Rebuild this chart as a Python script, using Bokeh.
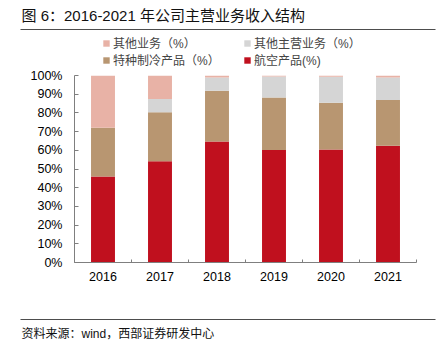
from bokeh.plotting import figure
from bokeh.layouts import column
from bokeh.models import (ColumnDataSource, Legend, LegendItem, Label, BoxAnnotation,
                          FixedTicker, Range1d)
from bokeh.embed import file_html
from bokeh.resources import INLINE

years = ["2016", "2017", "2018", "2019", "2020", "2021"]
aviation = [46.0, 54.2, 64.7, 60.2, 60.4, 62.5]
refrigeration = [26.1, 26.1, 27.1, 28.1, 25.0, 24.4]
other_main = [0.0, 7.1, 7.1, 11.2, 13.9, 12.0]
other_business = [27.9, 12.6, 1.1, 0.5, 0.7, 1.1]
y_ticks = [0, 10, 20, 30, 40, 50, 60, 70, 80, 90, 100]

names = ["航空产品(%)", "特种制冷产品（%）", "其他主营业务（%）", "其他业务（%）"]
colors = ["#C0101E", "#B89671", "#D5D5D5", "#E8B2A6"]
title_text = "图 6：2016-2021 年公司主营业务收入结构"
source_text = "资料来源：wind，西部证券研发中心"

CJK = "'Liberation Sans', 'Noto Sans CJK SC'"
W = 448
HEAD_H, FOOT_H = 68, 30
MAIN_H = 348 - HEAD_H - FOOT_H

xs = list(range(len(years)))
src = ColumnDataSource(dict(x=xs, a=aviation, r=refrigeration, m=other_main, o=other_business))
stack = ["a", "r", "m", "o"]


def blank(h):
    f = figure(width=W, height=h, output_backend="svg", toolbar_location=None,
               x_range=Range1d(0, W), y_range=Range1d(h, 0),
               x_axis_type=None, y_axis_type=None, frame_align=False,
               min_border=0, min_border_left=0, min_border_right=0,
               min_border_top=0, min_border_bottom=0)
    f.outline_line_color = None
    f.grid.visible = False
    return f


# header: title, rule, legend
head = blank(HEAD_H)
head.add_layout(Label(x=21, y=15, text=title_text, text_baseline="middle",
                      text_font=CJK, text_font_size="15px", text_color="#111111"))
head.add_layout(BoxAnnotation(left=20, right=435, top=28.5, bottom=29.5,
                              fill_color="#4d4d4d", fill_alpha=1, line_color=None))
proxies = head.vbar_stack(stack, x="x", width=0.42, source=src,
                          color=colors, line_color=None, visible=False)

items = [LegendItem(label=names[3], renderers=[proxies[3]]),
         LegendItem(label=names[2], renderers=[proxies[2]]),
         LegendItem(label=names[1], renderers=[proxies[1]]),
         LegendItem(label=names[0], renderers=[proxies[0]])]
leg = Legend(items=items, ncols=2, location=(102, 0), orientation="horizontal")
leg.glyph_width = 8
leg.glyph_height = 8
leg.label_text_font = CJK
leg.label_text_font_size = "12px"
leg.label_height = 12
leg.label_width = 130
leg.spacing = 0
leg.padding = 0
leg.margin = 0
leg.background_fill_alpha = 0
leg.border_line_color = None
leg.label_standoff = 3
leg.inactive_fill_alpha = 0
head.add_layout(leg, "center")

# main chart
p = figure(width=W, height=MAIN_H, output_backend="svg", toolbar_location=None,
           x_range=Range1d(-0.5, 5.5), y_range=Range1d(0, 100), frame_align=False,
           min_border_left=74, min_border_right=32, min_border_top=7, min_border_bottom=56)
p.outline_line_color = None
p.grid.visible = False

p.vbar_stack(stack, x="x", width=0.42, source=src, color=colors, line_color=None)

ya = p.yaxis[0]
ya.ticker = FixedTicker(ticks=y_ticks)
ya.major_label_overrides = {t: f"{t}%" for t in y_ticks}
ya.major_tick_in = 4
ya.major_tick_out = 0
ya.minor_tick_line_color = None
ya.axis_line_color = "#7f7f7f"
ya.major_tick_line_color = "#7f7f7f"
ya.major_label_text_font = "Liberation Sans"
ya.major_label_text_font_size = "12.5px"
ya.major_label_text_color = "#000000"
ya.major_label_standoff = 12

xa = p.xaxis[0]
xa.ticker = FixedTicker(ticks=xs, minor_ticks=[i - 0.5 for i in range(len(years) + 1)])
xa.major_label_overrides = {i: y for i, y in enumerate(years)}
xa.major_tick_in = 0
xa.major_tick_out = 0
xa.minor_tick_in = 3
xa.minor_tick_out = 0
xa.minor_tick_line_color = "#7f7f7f"
xa.axis_line_color = "#7f7f7f"
xa.major_label_text_font = "Liberation Sans"
xa.major_label_text_font_size = "12.5px"
xa.major_label_text_color = "#000000"
xa.major_label_standoff = 9

# footer: rule + source
foot = blank(FOOT_H)
foot.add_layout(BoxAnnotation(left=20, right=435, top=0.5, bottom=1.5,
                              fill_color="#4d4d4d", fill_alpha=1, line_color=None))
foot.add_layout(Label(x=21, y=15, text=source_text, text_baseline="middle",
                      text_font=CJK, text_font_size="12px", text_color="#111111"))

layout = column(head, p, foot, spacing=0)
open("out.html", "w").write(file_html(layout, INLINE))
